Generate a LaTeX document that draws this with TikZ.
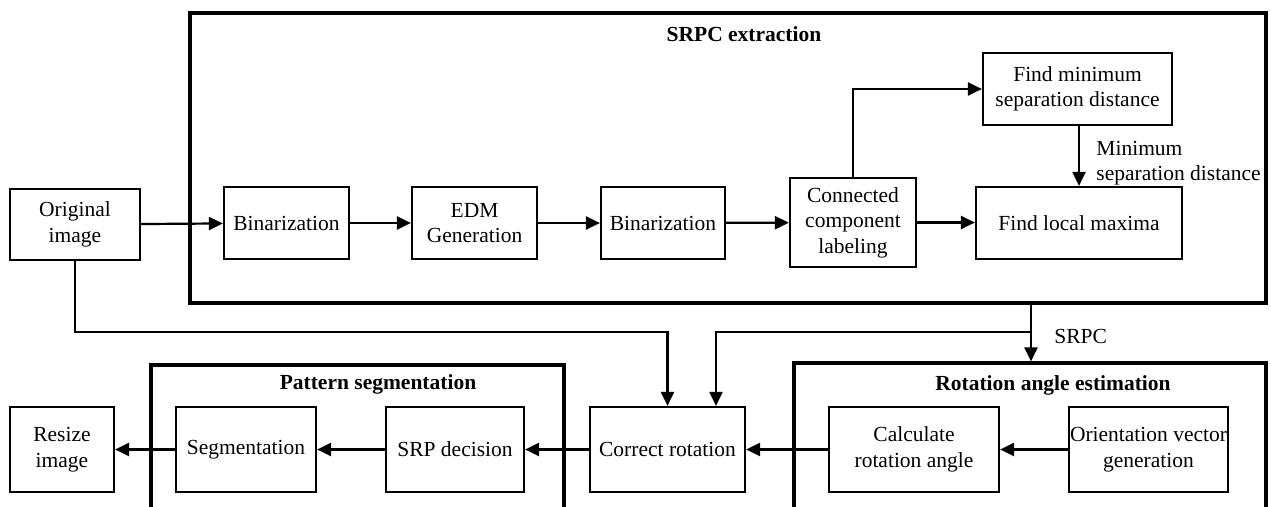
\documentclass[tikz,border=0pt]{standalone}
\usepackage{fontspec}
\setmainfont{Liberation Serif}
\usepackage{xcolor}
\usepackage{tikz}
\usetikzlibrary{arrows.meta}

\begin{document}
\begin{tikzpicture}
	[x=1pt, y=-1pt,
	 every node/.style={font=\fontsize{21.5}{25.5}\selectfont},
	 blk/.style={draw, line width=2.2pt, inner sep=0pt, align=center, minimum height=72},
	 grp/.style={draw, line width=3.2pt, inner sep=0pt},
	 ttl/.style={font=\fontsize{21.5}{25.5}\selectfont\bfseries},
	 arr/.style={line width=2.2pt, -{Triangle[length=14pt,width=13pt]}}]

	\useasboundingbox (0,0) rectangle (1271,506);

	% groups
	\node[grp, minimum width=1076, minimum height=290] (srpcbox) at (728,158) {};
	\node[grp, minimum width=413, minimum height=155] (patbox) at (357.5,442.5) {};
	\node[grp, minimum width=472, minimum height=157] (rotbox) at (1030,441.5) {};

	\node[ttl] at (744,34)  {SRPC extraction};
	\node[ttl] at (378,384) {Pattern segmentation};
	\node[ttl] at (1053,385) {Rotation angle estimation};

	% blocks
	\node[blk, minimum width=130, minimum height=71] (orig) at (75,224.5) {Original\\image};
	\node[blk, minimum width=125] (bina) at (286.5,223) {Binarization};
	\node[blk, minimum width=125] (edm)  at (474.5,223) {EDM\\Generation};
	\node[blk, minimum width=124] (binb) at (663,223)   {Binarization};
	\node[blk, minimum width=126, minimum height=89] (ccl) at (853,222.5) {Connected\\component\\labeling};
	\node[blk, minimum width=206] (flm)  at (1079,223)  {Find local maxima};
	\node[blk, minimum width=189] (fmsd) at (1077.5,89) {Find minimum\\separation distance};

	\node[blk, minimum width=104, minimum height=85] (resize) at (62,449.5)  {Resize\\image};
	\node[blk, minimum width=140, minimum height=85] (seg)    at (246,449.5) {Segmentation};
	\node[blk, minimum width=138, minimum height=85] (srpd)   at (455,449.5) {SRP decision};
	\node[blk, minimum width=155, minimum height=85] (corr)   at (667.5,449.5) {Correct rotation};
	\node[blk, minimum width=170, minimum height=85] (calc)   at (914,449.5) {Calculate\\rotation angle};
	\node[blk, minimum width=159, minimum height=85] (ovg)    at (1148.5,449.5) {Orientation vector\\generation};

	\coordinate (tap) at (1031,332);

	% SRPC extraction flow
	\draw[arr] (orig) -- (bina);
	\draw[arr] (bina) -- (edm);
	\draw[arr] (edm) -- (binb);
	\draw[arr] (binb) -- (ccl);
	\draw[arr] (ccl) -- (ccl -| flm.west);
	\draw[arr] (ccl.north) |- (fmsd.west);
	\draw[arr] (fmsd.south -| flm.north) -- (flm.north)
		node[pos=0.62, right, align=left, xshift=13] {Minimum\\separation distance};

	% SRPC output
	\draw[arr] (srpcbox.south -| tap) -- (rotbox.north -| tap)
		node[pos=0.57, right, xshift=19] {SRPC};
	\draw[arr] (tap) -| ([xshift=48.5]corr.north);
	\draw[arr] (orig.south) -- (orig.south |- tap) -| (corr.north);

	% lower flow
	\draw[arr] (ovg) -- (calc);
	\draw[arr] (calc) -- (corr);
	\draw[arr] (corr) -- (srpd);
	\draw[arr] (srpd) -- (seg);
	\draw[arr] (seg) -- (resize);

\end{tikzpicture}
\end{document}
